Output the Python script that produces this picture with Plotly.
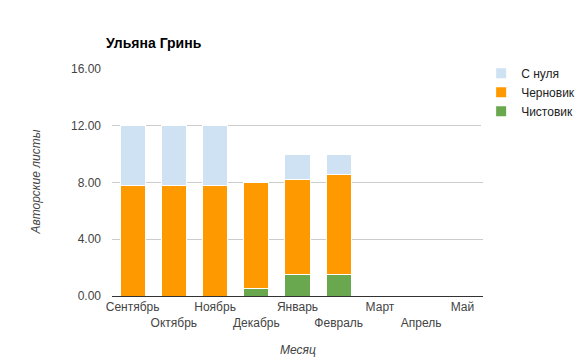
import plotly.graph_objects as go

months = ["Сентябрь", "Октябрь", "Ноябрь", "Декабрь", "Январь", "Февраль", "Март", "Апрель", "Май"]
clean = [0, 0, 0, 0.5, 1.5, 1.55, 0, 0, 0]          # Чистовик
draft = [7.8, 7.8, 7.8, 7.5, 6.7, 7.0, 0, 0, 0]      # Черновик
scratch = [4.2, 4.2, 4.2, 0, 1.8, 1.45, 0, 0, 0]     # С нуля
yticks = [0, 4, 8, 12, 16]

ticktext = [m if i % 2 == 0 else "<br>" + m for i, m in enumerate(months)]

FONT = "Arial, Liberation Sans, sans-serif"
OFF = 8  # default body margin of the html page
W, H = 586 - OFF, 360 - OFF

fig = go.Figure()
for name, vals, col in [("Чистовик", clean, "#6aa84f"),
                        ("Черновик", draft, "#ff9900"),
                        ("С нуля", scratch, "#cfe2f3")]:
    fig.add_trace(go.Bar(x=months, y=vals, name=name, marker_color=col,
                         marker_line_color="white", marker_line_width=1))

fig.update_layout(
    width=W, height=H,
    margin=dict(l=112 - OFF, r=103, t=69 - OFF, b=64, autoexpand=False),
    barmode="stack", bargap=0.39,
    plot_bgcolor="white", paper_bgcolor="white",
    font=dict(family=FONT, size=12, color="#444"),
    legend=dict(x=0.995, y=1.045, xanchor="left", yanchor="top",
                traceorder="reversed", font=dict(size=12, color="#222"),
                itemsizing="constant", tracegroupgap=0),
    showlegend=True,
)
fig.update_xaxes(tickmode="array", tickvals=months, ticktext=ticktext,
                 tickangle=0, automargin=False,
                 showgrid=False, showline=True, linecolor="#333", linewidth=1,
                 ticks="", tickfont=dict(size=12, color="#444"))
fig.update_yaxes(range=[0, 16], tickvals=yticks, tickformat=".2f", automargin=False,
                 showgrid=True, gridcolor="#cccccc", zeroline=False,
                 ticks="", tickfont=dict(size=12, color="#444"), ticklabelstandoff=10)

fig.add_annotation(text="<b>Ульяна Гринь</b>", xref="paper", yref="paper",
                   x=-8/371, y=(296-43)/227, xanchor="left", yanchor="middle", showarrow=False,
                   font=dict(family=FONT, size=14, color="#000"))
fig.add_annotation(text="<i>Месяц</i>", xref="paper", yref="paper",
                   x=0.5, y=-(350-296)/227, showarrow=False, yanchor="middle",
                   font=dict(size=12, color="#444"))
fig.add_annotation(text="<i>Авторские листы</i>", xref="paper", yref="paper",
                   x=-(112-35)/371, y=0.5, textangle=-90, showarrow=False,
                   xanchor="center", font=dict(size=12, color="#444"))

fig.write_html("out.html")
